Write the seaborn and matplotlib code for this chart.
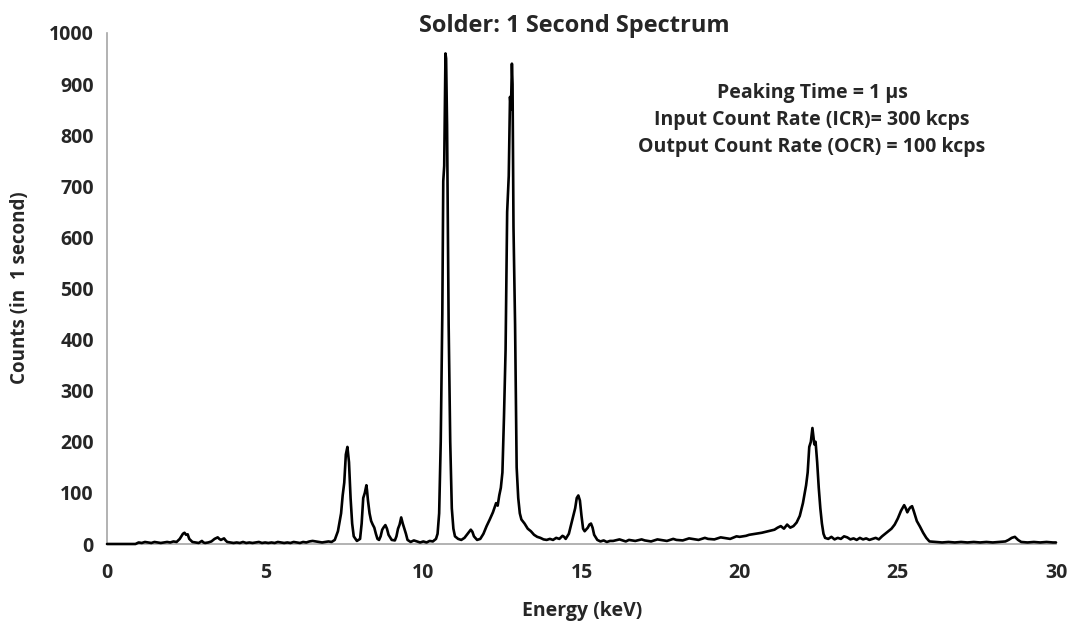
import numpy as np
import pandas as pd
import matplotlib
matplotlib.use("Agg")
import matplotlib.pyplot as plt
from matplotlib.ticker import MultipleLocator
import seaborn as sns

# spectrum (energy in keV, counts in 1 s)
energy_low = [0.0, 0.9, 1.0, 1.1, 1.2, 1.3, 1.4, 1.5, 1.6, 1.7, 1.8, 1.9, 2.0, 2.1, 2.2,
              2.3, 2.4, 2.45, 2.5, 2.55, 2.6, 2.7, 2.8, 2.9, 3.0, 3.05, 3.1, 3.2, 3.3,
              3.4, 3.5, 3.55, 3.6, 3.7, 3.75, 3.8, 3.9, 4.0, 4.1, 4.2, 4.3, 4.4, 4.5,
              4.6, 4.7, 4.8, 4.9, 5.0, 5.1, 5.2, 5.3, 5.4, 5.5, 5.6, 5.7, 5.8, 5.9,
              6.0, 6.1, 6.2, 6.3, 6.4, 6.5, 6.6, 6.7, 6.8, 6.9, 7.0, 7.1, 7.2]
counts_low = [0, 0, 3, 2, 4, 3, 2, 4, 3, 2, 3, 4, 3, 5, 4,
              10, 20, 22, 18, 19, 10, 4, 3, 2, 6, 3, 2, 3, 5,
              10, 13, 10, 8, 11, 7, 4, 3, 2, 3, 2, 4, 2, 3,
              2, 3, 4, 2, 3, 2, 3, 2, 4, 3, 2, 3, 2, 4,
              3, 2, 4, 3, 5, 6, 5, 4, 3, 4, 5, 4, 8]

energy_mid = [7.3, 7.4, 7.45, 7.5, 7.55, 7.6, 7.62, 7.65, 7.7, 7.75, 7.8, 7.9, 8.0,
              8.05, 8.1, 8.15, 8.2, 8.22, 8.25, 8.3, 8.35, 8.4, 8.45, 8.5, 8.55, 8.6,
              8.65, 8.7, 8.75, 8.8, 8.85, 8.9, 9.0, 9.1, 9.15, 9.2, 9.25, 9.3, 9.35,
              9.4, 9.45, 9.5, 9.6, 9.7, 9.8, 9.9, 10.0, 10.1, 10.2, 10.3, 10.4, 10.45,
              10.5, 10.55, 10.6, 10.63, 10.66, 10.7, 10.72, 10.75, 10.8, 10.85, 10.9,
              10.95, 11.0, 11.1, 11.2, 11.3, 11.4, 11.5, 11.55, 11.6, 11.7, 11.8, 11.9,
              12.0, 12.1, 12.2, 12.3, 12.35, 12.4, 12.45, 12.5, 12.55, 12.6, 12.65,
              12.7, 12.74, 12.77, 12.8, 12.82, 12.85, 12.9, 12.95, 13.0, 13.05, 13.1,
              13.2, 13.3, 13.4, 13.5, 13.6, 13.7, 13.8, 13.9, 14.0, 14.1, 14.2, 14.3,
              14.4, 14.45, 14.5, 14.6, 14.7, 14.8, 14.85, 14.9, 14.95, 15.0, 15.05,
              15.1, 15.2, 15.25, 15.3, 15.35, 15.4, 15.5, 15.6]
counts_mid = [25, 60, 95, 120, 175, 190, 178, 160, 90, 40, 15, 6, 10,
              40, 90, 100, 115, 105, 85, 60, 45, 38, 32, 20, 10, 8,
              15, 28, 33, 37, 30, 18, 8, 7, 15, 30, 38, 52, 40,
              30, 20, 8, 4, 7, 5, 3, 5, 3, 6, 5, 10, 20,
              60, 200, 450, 710, 740, 960, 950, 820, 430, 200, 70,
              30, 15, 10, 8, 12, 20, 28, 24, 15, 8, 10, 20,
              35, 48, 62, 80, 75, 95, 110, 140, 250, 380, 650,
              720, 875, 850, 940, 900, 620, 430, 150, 90, 60, 48,
              40, 30, 25, 18, 14, 12, 9, 8, 10, 8, 12, 10,
              16, 14, 10, 20, 45, 70, 90, 95, 85, 55, 30,
              25, 32, 38, 40, 32, 18, 8, 5]

energy_high = [15.7, 15.8, 15.9, 16.0, 16.2, 16.4, 16.5, 16.7, 16.9, 17.0, 17.2, 17.4,
               17.5, 17.7, 17.9, 18.0, 18.2, 18.4, 18.5, 18.7, 18.9, 19.0, 19.2, 19.4,
               19.5, 19.7, 19.9, 20.0, 20.2, 20.3, 20.5, 20.7, 20.9, 21.1, 21.2, 21.3,
               21.4, 21.5, 21.6, 21.7, 21.8, 21.9, 22.0, 22.1, 22.15, 22.2, 22.25, 22.3,
               22.33, 22.36, 22.4, 22.45, 22.5, 22.55, 22.6, 22.65, 22.7, 22.8, 22.9,
               23.0, 23.1, 23.2, 23.3, 23.4, 23.5, 23.6, 23.7, 23.8, 23.9, 24.0, 24.1,
               24.2, 24.3, 24.4, 24.5, 24.6, 24.7, 24.8, 24.9, 25.0, 25.1, 25.2, 25.25,
               25.3, 25.35, 25.4, 25.45, 25.5, 25.6, 25.7, 25.8, 25.9, 26.0, 26.2, 26.4,
               26.6, 26.8, 27.0, 27.2, 27.4, 27.6, 27.8, 28.0, 28.2, 28.4, 28.5, 28.6,
               28.7, 28.8, 28.9, 29.1, 29.3, 29.5, 29.7, 29.9, 30.0]
counts_high = [7, 4, 6, 6, 9, 5, 8, 6, 9, 7, 5, 9,
               8, 6, 10, 8, 7, 11, 10, 8, 12, 10, 9, 13,
               12, 10, 15, 14, 16, 18, 20, 22, 25, 28, 32, 35,
               30, 38, 32, 35, 42, 55, 80, 115, 140, 190, 200, 227,
               210, 195, 200, 160, 110, 70, 40, 20, 12, 10, 14,
               9, 12, 10, 15, 13, 9, 11, 8, 12, 9, 11, 8,
               10, 12, 9, 15, 20, 25, 30, 38, 50, 65, 76, 70,
               62, 68, 72, 74, 65, 45, 34, 22, 12, 5, 4, 3,
               4, 3, 4, 3, 4, 3, 4, 3, 4, 5, 8, 12,
               14, 8, 4, 3, 4, 3, 4, 3, 3]

energy = energy_low + energy_mid + energy_high
counts = counts_low + counts_mid + counts_high
df = pd.DataFrame({"Energy": energy, "Counts": counts})

sns.set_theme(style="white")
plt.rcParams["font.family"] = ["Open Sans", "DejaVu Sans"]
plt.rcParams["font.weight"] = "bold"

W, H = 1081, 630
fig = plt.figure(figsize=(W / 100, H / 100), dpi=100)
ax = fig.add_axes([107 / W, 1 - 544 / H, (1056 - 107) / W, (544 - 33) / H])

sns.lineplot(data=df, x="Energy", y="Counts", color="black", linewidth=1.9,
             estimator=None, ax=ax, zorder=3)
for ln in ax.lines:
    ln.set_clip_on(False)

ax.set_xlim(0, 30)
ax.set_ylim(0, 1000)
ax.xaxis.set_major_locator(MultipleLocator(5))
ax.xaxis.set_minor_locator(MultipleLocator(1))
ax.yaxis.set_major_locator(MultipleLocator(100))
ax.yaxis.set_minor_locator(MultipleLocator(20))

for side in ["top", "right"]:
    ax.spines[side].set_visible(False)
for side in ["left", "bottom"]:
    ax.spines[side].set_color("#a6a6a6")
    ax.spines[side].set_linewidth(1.2)

ax.tick_params(axis="y", which="major", direction="inout", length=13, width=1.2,
               color="#a6a6a6", labelsize=14, pad=3)
ax.tick_params(axis="y", which="minor", direction="out", length=5, width=1.0,
               color="#a6a6a6")
ax.tick_params(axis="x", which="both", direction="out", length=6, width=1.2,
               color="#a6a6a6", labelsize=14, pad=8)
for lab in ax.get_xticklabels() + ax.get_yticklabels():
    lab.set_fontweight("bold")

ax.set_xlabel("")
ax.set_ylabel("")
fig.text(582 / W, 1 - 611 / H, "Energy (keV)", ha="center", va="center",
         fontsize=14, fontweight="bold")
fig.text(20 / W, 1 - 288 / H, "Counts (in  1 second)", ha="center", va="center",
         rotation=90, fontsize=13.5, fontweight="bold")
fig.text(574 / W, 1 - 32 / H, "Solder: 1 Second Spectrum", ha="center",
         va="baseline", fontsize=17, fontweight="bold")

ann_lines = ["Peaking Time = 1 \u03bcs", "Input Count Rate (ICR)= 300 kcps",
             "Output Count Rate (OCR) = 100 kcps"]
for i, txt in enumerate(ann_lines):
    fig.text(812 / W, 1 - (93 + 27 * i) / H, txt, ha="center", va="center",
             fontsize=14, fontweight="bold")

fig.savefig("out.png", dpi=100, facecolor="white")
